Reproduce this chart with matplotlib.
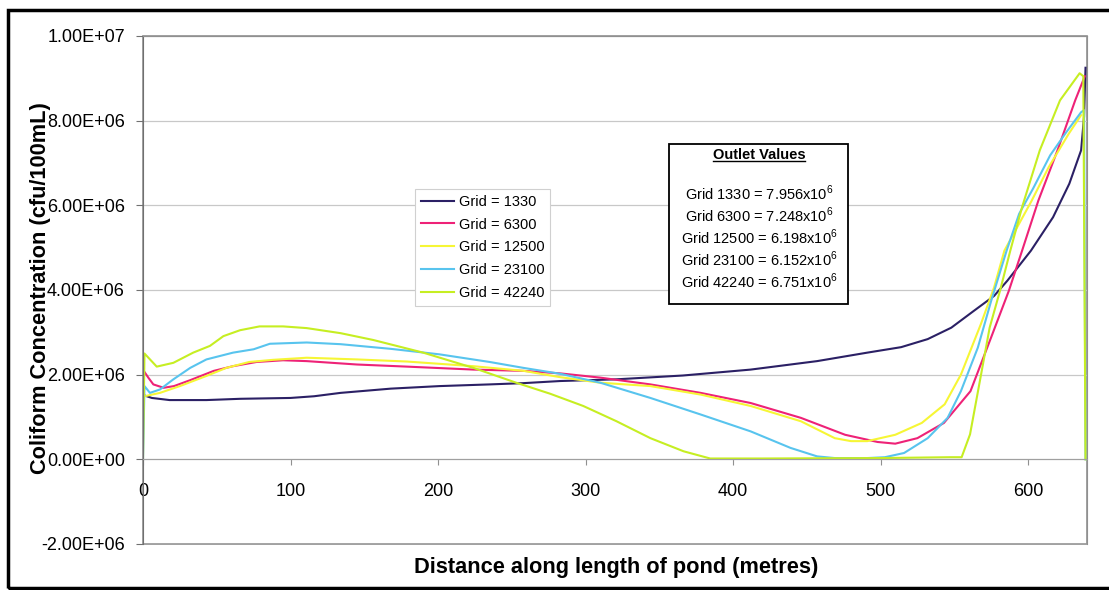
import numpy as np
import matplotlib
matplotlib.use("Agg")
import matplotlib.pyplot as plt
from matplotlib.patches import Rectangle
from matplotlib.lines import Line2D

plt.rcParams['font.family'] = ['Liberation Sans', 'DejaVu Sans']
plt.rcParams['mathtext.fontset'] = 'custom'
plt.rcParams['mathtext.rm'] = 'Liberation Sans'

# concentrations in millions of cfu/100mL along the pond (metres)
x_1330 = [0, 6, 18, 43, 66, 100, 116, 134, 168, 201, 235, 258, 283, 321, 366,
          412, 457, 491, 514, 532, 548, 563, 577, 586, 602, 617, 628, 636, 638, 639]
y_1330 = [1.52, 1.45, 1.40, 1.40, 1.43, 1.45, 1.49, 1.57, 1.67, 1.73, 1.77, 1.80,
          1.85, 1.89, 1.98, 2.12, 2.32, 2.52, 2.65, 2.84, 3.11, 3.50, 3.86, 4.22,
          4.93, 5.72, 6.51, 7.30, 8.09, 9.25]

x_6300 = [0.5, 3.6, 7, 14, 21, 32, 48, 61, 77, 95, 111, 145, 179, 224, 258, 283,
          310, 344, 378, 412, 446, 476, 498, 510, 525, 543, 561, 575, 587, 596,
          607, 620, 632, 638.5]
y_6300 = [2.09, 1.93, 1.77, 1.69, 1.73, 1.87, 2.09, 2.20, 2.30, 2.34, 2.32, 2.24,
          2.19, 2.12, 2.09, 2.03, 1.93, 1.77, 1.57, 1.33, 0.98, 0.58, 0.41, 0.37,
          0.50, 0.86, 1.61, 2.88, 3.98, 4.93, 6.11, 7.30, 8.48, 9.05]

x_12500 = [1, 11.5, 25, 43, 56.5, 72, 88, 111, 145, 179, 224, 258, 283, 310, 344,
           378, 412, 446, 469, 480, 491, 510, 528, 543.5, 554.5, 568, 577, 584,
           602.5, 614, 627.6, 636]
y_12500 = [1.49, 1.57, 1.73, 1.97, 2.16, 2.30, 2.35, 2.40, 2.36, 2.31, 2.20, 2.09,
           1.94, 1.81, 1.73, 1.53, 1.26, 0.90, 0.50, 0.43, 0.43, 0.58, 0.86, 1.30,
           2.00, 3.19, 4.06, 4.93, 6.11, 6.90, 7.69, 8.13]

x_23100 = [0, 1, 4.7, 11.5, 20.6, 32, 43, 61, 75, 86, 111, 134, 168, 201, 235, 258,
           283, 310, 344, 378, 412, 439, 457, 469, 491, 503, 516, 532, 545.5, 554.5,
           566, 575, 585.5, 594, 603.5, 615, 626, 636, 638, 639]
y_23100 = [0, 1.73, 1.57, 1.65, 1.89, 2.16, 2.36, 2.52, 2.60, 2.73, 2.76, 2.72,
           2.61, 2.48, 2.30, 2.16, 2.02, 1.81, 1.45, 1.06, 0.66, 0.27, 0.07, 0.03,
           0.03, 0.05, 0.15, 0.50, 0.98, 1.61, 2.64, 3.74, 4.93, 5.80, 6.40, 7.18,
           7.73, 8.20, 8.25, 0]

x_42240 = [0, 1, 9.3, 20.6, 34, 45.4, 54.5, 65.8, 79, 95, 111, 134, 156, 190, 224,
           253, 276, 298.5, 321, 344, 366.5, 384.5, 420, 500, 547, 555, 560.7, 567,
           574, 581, 588, 596, 608, 621.7, 635, 637.5, 639]
y_42240 = [0, 2.50, 2.19, 2.28, 2.52, 2.68, 2.91, 3.05, 3.14, 3.14, 3.10, 2.98,
           2.82, 2.52, 2.16, 1.81, 1.55, 1.26, 0.90, 0.50, 0.19, 0.02, 0.02, 0.03,
           0.05, 0.05, 0.59, 1.78, 3.11, 3.98, 4.93, 5.96, 7.30, 8.48, 9.12, 9.05, 0]

labels = ['Grid = 1330', 'Grid = 6300', 'Grid = 12500', 'Grid = 23100', 'Grid = 42240']
colors = ['#2B2065', '#EE2277', '#F6F635', '#58C4EE', '#C6EE22']
outlet_lines = [r'Grid 1330 = 7.956x10$^{6}$', r'Grid 6300 = 7.248x10$^{6}$',
                r'Grid 12500 = 6.198x10$^{6}$', r'Grid 23100 = 6.152x10$^{6}$',
                r'Grid 42240 = 6.751x10$^{6}$']

W, H = 1109, 590
fig = plt.figure(figsize=(W / 100, H / 100), dpi=100)
ax = fig.add_axes([143 / W, 1 - 544 / H, 944 / W, 508 / H])

series = [(x_1330, y_1330), (x_6300, y_6300), (x_12500, y_12500),
          (x_23100, y_23100), (x_42240, y_42240)]
for (xs, ys), lab, c in zip(series, labels, colors):
    ax.plot(xs, np.array(ys) * 1e6, color=c, lw=1.5, label=lab)

ax.set_xlim(0, 640)
ax.set_ylim(-2e6, 1e7)
ax.set_xticks([0, 100, 200, 300, 400, 500, 600])
ax.set_yticks(np.arange(-2e6, 1.01e7, 2e6))
ax.yaxis.set_major_formatter(plt.FuncFormatter(lambda v, p: '%.2E' % v))
ax.grid(axis='y', color='#c8c8c8', lw=0.9)
ax.set_axisbelow(True)

# horizontal axis crosses at zero, plot area keeps a grey frame
ax.spines['bottom'].set_position(('data', 0))
ax.spines['bottom'].set_color('#a0a0a0')
for s in ['top', 'right']:
    ax.spines[s].set_color('#909090')
ax.spines['left'].set_color('#707070')
ax.add_patch(Rectangle((0, 0), 1, 1, transform=ax.transAxes, fill=False,
                       edgecolor='#909090', lw=1.2, clip_on=False, zorder=0))
ax.tick_params(axis='x', direction='out', length=4, pad=13, labelsize=13,
               color='#909090')
ax.tick_params(axis='y', direction='out', length=5, pad=8, labelsize=13,
               color='#707070')

fig.text(41 / W, 1 - 288 / H, 'Coliform Concentration (cfu/100mL)', rotation=90,
         ha='center', va='center', fontsize=15.7, fontweight='bold')
fig.text(616 / W, 1 - 567 / H, 'Distance along length of pond (metres)',
         ha='center', va='center', fontsize=15.7, fontweight='bold')

leg = ax.legend(loc='upper left', bbox_to_anchor=((415 - 143) / 944, (544 - 189) / 508),
                borderaxespad=0, fontsize=10.5, handlelength=2.3, handletextpad=0.3,
                labelspacing=0.6, fancybox=False, framealpha=1, borderpad=0.4)
leg.get_frame().set_edgecolor('#d0d0d0')
leg.get_frame().set_linewidth(0.8)

# outlet values box
fig.add_artist(Rectangle((669 / W, 1 - 304 / H), 179 / W, 160 / H,
                         transform=fig.transFigure, facecolor='white',
                         edgecolor='black', lw=1.3, zorder=5))
title = fig.text(759 / W, 1 - 155 / H, 'Outlet Values', ha='center', va='center',
                 fontsize=10.5, fontweight='bold', zorder=6)
for i, t in enumerate(outlet_lines):
    fig.text(759 / W, 1 - (193 + 22 * i) / H, t, ha='center', va='center',
             fontsize=10.5, zorder=6)

fig.canvas.draw()
bb = title.get_window_extent().transformed(fig.transFigure.inverted())
fig.add_artist(Line2D([bb.x0, bb.x1], [bb.y0 + 0.002, bb.y0 + 0.002],
                      transform=fig.transFigure, color='black', lw=1, zorder=6))

# heavy outer border
fig.add_artist(Rectangle((8 / W, 1 - 588 / H), 1.02, 578 / H,
                         transform=fig.transFigure, fill=False,
                         edgecolor='black', lw=2.5, clip_on=False))

fig.savefig('out.png', dpi=100)
